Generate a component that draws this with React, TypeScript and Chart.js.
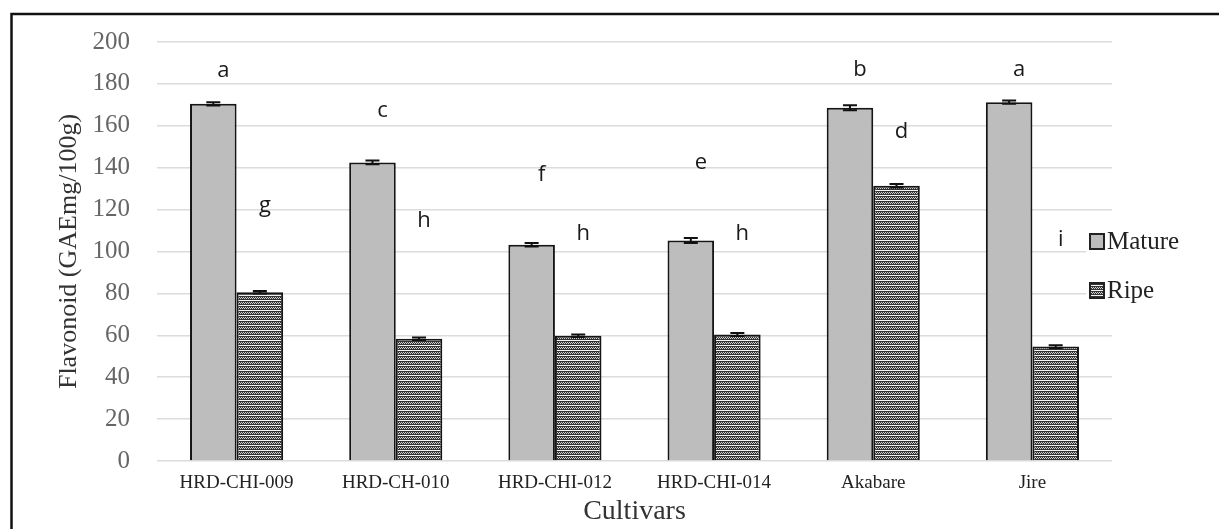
import React, { useEffect, useRef } from "react";
import Chart from "chart.js/auto";

const categories = ["HRD-CHI-009", "HRD-CH-010", "HRD-CHI-012", "HRD-CHI-014", "Akabare", "Jire"];
const matureValues = [170.5, 142.5, 103.2, 105.3, 168.6, 171.3];
const ripeValues = [80.6, 58.3, 59.8, 60.4, 131.4, 54.6];
const matureErrors = [0.8, 0.9, 0.8, 1.2, 1.2, 0.8];
const ripeErrors = [0.6, 0.6, 0.6, 0.7, 0.8, 0.7];
const matureLetters = ["a", "c", "f", "e", "b", "a"];
const ripeLetters = ["g", "h", "h", "h", "d", "i"];
const matureLetterHeights = [186.5, 167, 136.5, 142.3, 186.8, 186.8];
const ripeLetterHeights = [122, 114.5, 108.3, 108.7, 157.4, 105.4];
const yTicks = [0, 20, 40, 60, 80, 100, 120, 140, 160, 180, 200];
const seriesNames = ["Mature", "Ripe"];

const W = 1219;
const H = 529;

function makeRipePattern(ctx: CanvasRenderingContext2D): CanvasPattern | string {
  const c = document.createElement("canvas");
  c.width = 6;
  c.height = 5;
  const p = c.getContext("2d");
  if (!p) return "#777";
  const dark = "#333333";
  const light = "#d4d4d4";
  for (let y = 0; y < 5; y++) {
    for (let x = 0; x < 6; x++) {
      let col = dark;
      if (y === 0) col = "#f4f4f4";
      else if (y === 2) col = x % 2 === 0 ? dark : light;
      else if (y === 3) col = x % 2 === 1 ? dark : light;
      p.fillStyle = col;
      p.fillRect(x, y, 1, 1);
    }
  }
  return ctx.createPattern(c, "repeat") || "#777";
}

export default function App() {
  const ref = useRef<HTMLCanvasElement | null>(null);
  useEffect(() => {
    const canvas = ref.current;
    if (!canvas) return;
    const ctx0 = canvas.getContext("2d");
    if (!ctx0) return;
    const ripeFill = makeRipePattern(ctx0);
    const matureFill = "#bdbdbd";

    const overlay = {
      id: "overlay",
      afterDatasetsDraw(chart: any) {
        const ctx = chart.ctx;
        const ys = chart.scales.y;
        const errs = [matureErrors, ripeErrors];
        const vals = [matureValues, ripeValues];
        ctx.save();
        ctx.strokeStyle = "#111";
        ctx.lineWidth = 2;
        for (let d = 0; d < 2; d++) {
          const meta = chart.getDatasetMeta(d);
          meta.data.forEach((el: any, i: number) => {
            const x = el.x;
            const y1 = ys.getPixelForValue(vals[d][i] + errs[d][i]);
            const y2 = ys.getPixelForValue(vals[d][i] - errs[d][i]);
            ctx.beginPath();
            ctx.moveTo(x, y1);
            ctx.lineTo(x, y2);
            ctx.moveTo(x - 7, y1);
            ctx.lineTo(x + 7, y1);
            ctx.moveTo(x - 7, y2);
            ctx.lineTo(x + 7, y2);
            ctx.stroke();
          });
        }
        ctx.fillStyle = "#1a1a1a";
        ctx.font = '22px "Open Sans", "Liberation Sans", sans-serif';
        ctx.textAlign = "center";
        ctx.textBaseline = "middle";
        const letters = [matureLetters, ripeLetters];
        const heights = [matureLetterHeights, ripeLetterHeights];
        const offs = [10, 5];
        for (let d = 0; d < 2; d++) {
          const meta = chart.getDatasetMeta(d);
          meta.data.forEach((el: any, i: number) => {
            ctx.fillText(letters[d][i], el.x + offs[d], ys.getPixelForValue(heights[d][i]));
          });
        }
        ctx.restore();
      },
      afterDraw(chart: any) {
        const ctx = chart.ctx;
        ctx.save();
        const lx = 1090;
        const rows = [241, 290];
        const fills = [matureFill, ripeFill];
        ctx.fillStyle = "#ffffff";
        ctx.fillRect(lx - 4, 222, 125, 88);
        ctx.font = '25px "Liberation Serif", "DejaVu Serif", serif';
        ctx.textBaseline = "middle";
        ctx.textAlign = "left";
        for (let i = 0; i < 2; i++) {
          const cy = rows[i];
          ctx.fillStyle = fills[i] as any;
          ctx.fillRect(lx, cy - 7, 14, 15);
          ctx.strokeStyle = "#222";
          ctx.lineWidth = 2;
          ctx.strokeRect(lx, cy - 7, 14, 15);
          ctx.fillStyle = "#222";
          ctx.fillText(seriesNames[i], lx + 17, cy + 1);
        }
        ctx.strokeStyle = "#111";
        ctx.lineWidth = 2.5;
        ctx.beginPath();
        ctx.moveTo(11.5, H);
        ctx.lineTo(11.5, 14);
        ctx.lineTo(W, 14);
        ctx.stroke();
        ctx.restore();
      },
    };

    const chart = new Chart(canvas, {
      type: "bar",
      data: {
        labels: categories,
        datasets: [
          {
            label: seriesNames[0],
            data: matureValues,
            backgroundColor: matureFill,
            borderColor: "#151515",
            borderWidth: 2,
            categoryPercentage: 0.585,
            barPercentage: 1.0,
          },
          {
            label: seriesNames[1],
            data: ripeValues,
            backgroundColor: ripeFill as any,
            borderColor: "#151515",
            borderWidth: 2,
            categoryPercentage: 0.585,
            barPercentage: 1.0,
          },
        ],
      },
      options: {
        responsive: false,
        animation: false,
        devicePixelRatio: 1,
        layout: { padding: { left: 14, right: 107, top: 38, bottom: 0 } },
        plugins: {
          legend: { display: false },
          tooltip: { enabled: false },
        },
        scales: {
          y: {
            min: 0,
            max: 200,
            afterBuildTicks: (s: any) => {
              s.ticks = yTicks.map((v) => ({ value: v }));
            },
            afterFit: (s: any) => {
              s.width = 143;
            },
            ticks: {
              padding: 27,
              color: "#666",
              font: { family: '"Liberation Serif", "DejaVu Serif", serif', size: 25 },
            },
            grid: { color: "#dcdcdc", lineWidth: 1.5, drawTicks: false },
            border: { display: false },
            title: {
              display: true,
              text: "Flavonoid (GAEmg/100g)",
              color: "#333",
              font: { family: '"Liberation Serif", "DejaVu Serif", serif', size: 26 },
              padding: { top: 40, bottom: 0 },
            },
          },
          x: {
            afterFit: (s: any) => {
              s.height = 68;
            },
            grid: { display: false, drawTicks: false },
            border: { display: false },
            ticks: {
              padding: 11,
              color: "#222",
              maxRotation: 0,
              autoSkip: false,
              font: { family: '"Liberation Serif", "DejaVu Serif", serif', size: 19 },
            },
            title: {
              display: true,
              text: "Cultivars",
              color: "#333",
              font: { family: '"Liberation Serif", "DejaVu Serif", serif', size: 28 },
              padding: { top: 0, bottom: 1 },
            },
          },
        },
      },
      plugins: [overlay],
    });
    return () => chart.destroy();
  }, []);

  return (
    <div style={{ position: "fixed", left: 0, top: 0, width: W, height: H, background: "#fff" }}>
      <canvas ref={ref} width={W} height={H} style={{ display: "block", width: W, height: H }} />
    </div>
  );
}
